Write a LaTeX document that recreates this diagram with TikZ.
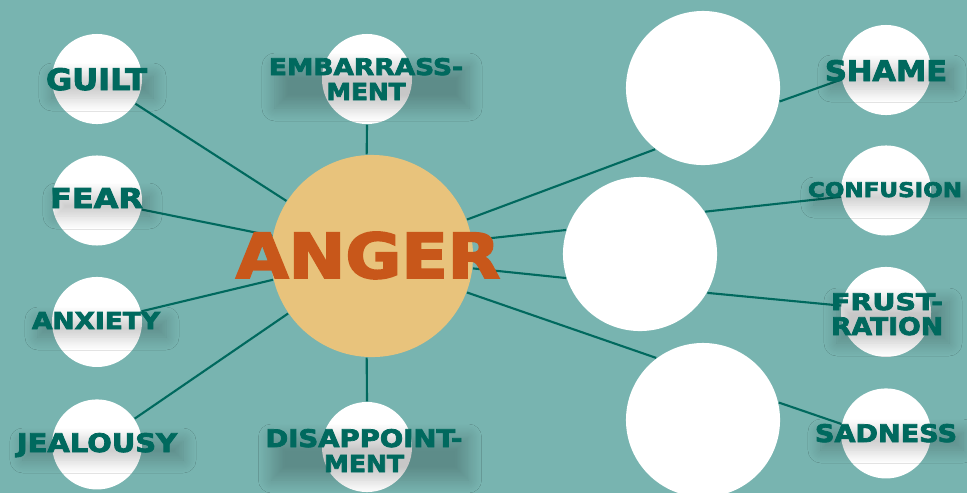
\documentclass[tikz,border=0pt]{standalone}
\usepackage{fontspec}
\setmainfont{DejaVu Sans}
\newfontfamily\blockfont{DejaVu Sans Bold}[FakeBold=3]
\usepackage{graphicx}
\usepackage{tikz}
\usetikzlibrary{positioning,shadows.blur}
\definecolor{MoodBg}{HTML}{78B4B0}
\definecolor{AngerFill}{HTML}{E8C37C}
\definecolor{AngerText}{HTML}{C8571A}
\definecolor{FeelTeal}{HTML}{00695E}

% stretched block lettering: width, cap height (cm), text
\newcommand{\blocktxt}[3]{\resizebox{#1cm}{#2cm}{\blockfont #3}}

\begin{document}
\begin{tikzpicture}[
  x=0.01cm, y=-0.01cm,
  bubble/.style={circle,fill=white,inner sep=0pt,minimum size=0.9cm},
  bigbubble/.style={circle,fill=white,inner sep=0pt,minimum size=1.54cm},
  core/.style={circle,fill=AngerFill,inner sep=0pt,minimum size=2.02cm},
  link/.style={draw=FeelTeal,line width=0.6pt},
  feeling/.style={inner sep=0pt,text depth=0pt,align=center,text=FeelTeal,
    font=\fontsize{6}{7.1}\selectfont,
    blur shadow={shadow xshift=0.06cm,shadow yshift=-0.08cm,
      shadow blur radius=0.13cm,shadow blur steps=12,shadow opacity=22}}
]
  \clip (0,0) rectangle (967,493);
  \fill[MoodBg] (0,0) rectangle (967,493);

  \node[core] (anger) at (372,256) {};

  \node[bubble] (guilt) at (97,79) {};
  \node[bubble, below=0.3cm of guilt] (fear) {};
  \node[bubble, below=0.3cm of fear] (anxiety) {};
  \node[bubble, below=0.31cm of anxiety] (jealousy) {};
  \node[bubble] (embarrass) at (367,79) {};
  \node[bubble] (disappoint) at (367,447) {};

  \node[bigbubble] (bigtop) at (703,88) {};
  \node[bigbubble] (bigmid) at (640,254) {};
  \node[bigbubble] (bigbot) at (703,420) {};

  \node[bubble] (shame) at (886,70) {};
  \node[bubble, below=0.29cm of shame] (confusion) {};
  \node[bubble, below=0.3cm of confusion] (frustration) {};
  \node[bubble, below=0.3cm of frustration] (sadness) {};

  \draw[link] (anger) -- (guilt);
  \draw[link] (anger) -- (fear);
  \draw[link] (anger) -- (anxiety);
  \draw[link] (anger) -- (jealousy);
  \draw[link] (anger.93) -- (embarrass.south);
  \draw[link] (anger.-93) -- (disappoint.north);
  \draw[link] (anger.21.6) -- (bigtop.232);
  \draw[link] (anger.9) -- (bigmid.162);
  \draw[link] (anger.-7.5) -- (bigmid.198);
  \draw[link] (anger.-21) -- (bigbot.127);
  \draw[link] (bigtop.-10) -- (shame.192);
  \draw[link] (bigmid.33) -- (confusion.188);
  \draw[link] (bigmid.-30) -- (frustration.172);
  \draw[link] (bigbot.13.5) -- (sadness.168);

  \node[feeling] (guiltTxt) at (96.5,79) {\blocktxt{1.01}{0.22}{GUILT}};
  \node[feeling] (fearTxt) at (96.5,198) {\blocktxt{0.93}{0.20}{FEAR}};
  \node[feeling] (anxietyTxt) at (96,320.5) {\blocktxt{1.28}{0.17}{ANXIETY}};
  \node[feeling] (jealousyTxt) at (97,442.5) {\blocktxt{1.60}{0.19}{JEALOUSY}};
  \node[feeling] (embarrassTxt) at (366,79) {\blocktxt{1.94}{0.17}{EMBARRASS-}\\\blocktxt{0.79}{0.17}{MENT}};
  \node[feeling] (disappointTxt) at (364,450.5) {\blocktxt{1.97}{0.18}{DISAPPOINT-}\\\blocktxt{0.80}{0.17}{MENT}};
  \node[feeling] (shameTxt) at (886,70.5) {\blocktxt{1.22}{0.21}{SHAME}};
  \node[feeling] (confusionTxt) at (885,189.5) {\blocktxt{1.54}{0.15}{CONFUSION}};
  \node[feeling] (frustrationTxt) at (887,314) {\blocktxt{1.12}{0.17}{FRUST-}\\\blocktxt{1.12}{0.18}{RATION}};
  \node[feeling] (sadnessTxt) at (886,433) {\blocktxt{1.42}{0.18}{SADNESS}};

  \node[inner sep=0pt,text depth=0pt,text=AngerText] (angerTxt) at (368,255) {\blocktxt{2.64}{0.46}{ANGER}};
\end{tikzpicture}
\end{document}
